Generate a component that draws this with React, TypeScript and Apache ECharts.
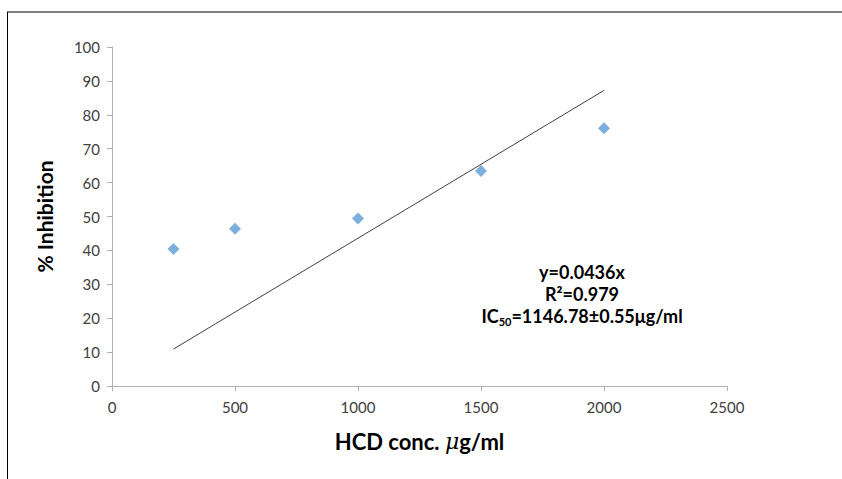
import React, { useEffect, useRef } from "react";
import * as echarts from "echarts";

const concentrations = [250, 500, 1000, 1500, 2000];
const inhibition = [40.4, 46.4, 49.4, 63.4, 76.0];
const trendX = [250, 2000];
const trendY = [10.9, 87.2];
const xTicks = [0, 500, 1000, 1500, 2000, 2500];
const yTicks = [0, 10, 20, 30, 40, 50, 60, 70, 80, 90, 100];
const annotationLines = ["y=0.0436x", "R²=0.979", "IC{sub|50}=1146.78±0.55μg/ml"];

const FONT = "Lato, 'Open Sans', sans-serif";

export default function App() {
  const ref = useRef<HTMLDivElement>(null);
  useEffect(() => {
    if (!ref.current) return;
    const chart = echarts.init(ref.current, undefined, { renderer: "svg" });
    const axisLine = { show: true, lineStyle: { color: "#b0b0b0", width: 1 } };
    chart.setOption({
      animation: false,
      backgroundColor: "#ffffff",
      grid: { left: 112, right: 115, top: 47, bottom: 93 },
      xAxis: {
        type: "value",
        min: xTicks[0],
        max: xTicks[xTicks.length - 1],
        interval: 500,
        axisLine,
        axisTick: { show: true, length: 5, lineStyle: { color: "#b0b0b0" } },
        splitLine: { show: false },
        axisLabel: { color: "#404040", fontSize: 15, fontFamily: FONT, margin: 13, formatter: (v: number) => String(v) },
        name: "HCD conc. {i|μ}g/ml",
        nameLocation: "middle",
        nameGap: 44,
        nameTextStyle: {
          color: "#000",
          fontSize: 22,
          fontWeight: "bold",
          fontFamily: FONT,
          rich: {
            i: { fontStyle: "italic", fontWeight: "normal", fontSize: 22, fontFamily: "'DejaVu Serif', serif", color: "#000" },
          },
        },
      },
      yAxis: {
        type: "value",
        min: yTicks[0],
        max: yTicks[yTicks.length - 1],
        interval: 10,
        axisLine,
        axisTick: { show: true, length: 5, lineStyle: { color: "#b0b0b0" } },
        splitLine: { show: false },
        axisLabel: { color: "#404040", fontSize: 15, fontFamily: FONT, margin: 12 },
        name: "% Inhibition",
        nameLocation: "middle",
        nameGap: 57,
        nameTextStyle: { color: "#000", fontSize: 21, fontWeight: "bold", fontFamily: FONT },
      },
      series: [
        {
          type: "line",
          data: trendX.map((x, i) => [x, trendY[i]]),
          symbol: "none",
          lineStyle: { color: "#404040", width: 1 },
          silent: true,
        },
        {
          type: "scatter",
          data: concentrations.map((x, i) => [x, inhibition[i]]),
          symbol: "diamond",
          symbolSize: 12,
          itemStyle: { color: "#5B9BD5" },
        },
      ],
      graphic: [
        { type: "line", shape: { x1: 7, y1: 12, x2: 842, y2: 12 }, style: { stroke: "#000", lineWidth: 1 } },
        { type: "line", shape: { x1: 7.5, y1: 12, x2: 7.5, y2: 479 }, style: { stroke: "#000", lineWidth: 1 } },
        {
          type: "text",
          x: 582,
          y: 261,
          style: {
            text: annotationLines.join("\n"),
            align: "center",
            verticalAlign: "top",
            fill: "#000",
            fontSize: 18,
            fontWeight: "bold",
            fontFamily: FONT,
            lineHeight: 22,
            rich: {
              sub: { fontSize: 11, fontWeight: "bold", fontFamily: FONT, fill: "#000", verticalAlign: "bottom", lineHeight: 22, padding: [8, 0, 0, 0] },
            },
          },
        },
      ],
    });
    return () => chart.dispose();
  }, []);
  return (
    <div
      ref={ref}
      style={{ position: "absolute", left: 0, top: 0, width: 842, height: 479 }}
    />
  );
}
